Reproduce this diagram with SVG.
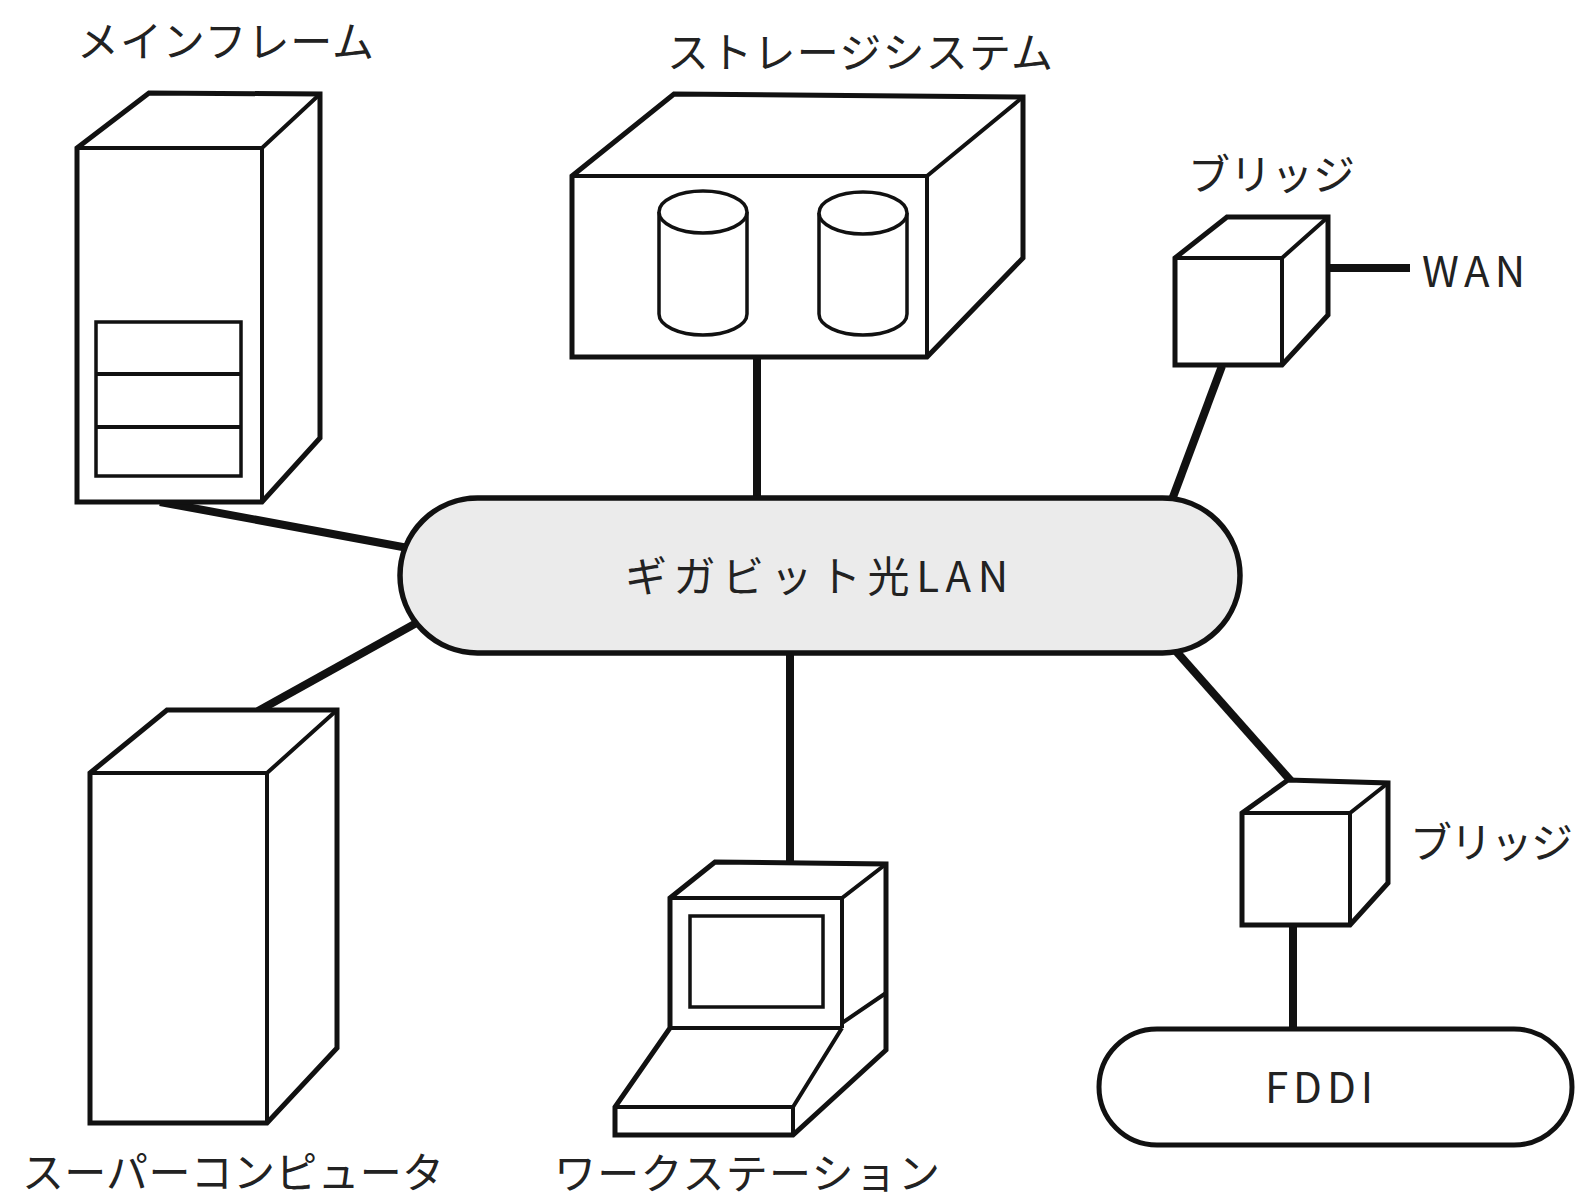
<svg xmlns="http://www.w3.org/2000/svg" width="1584" height="1204" viewBox="0 0 1584 1204">
  <style>
    .outer { fill: #ffffff; stroke: #111111; stroke-width: 5; stroke-linejoin: miter; }
    .edge { fill: none; stroke: #111111; stroke-width: 4; stroke-linejoin: miter; }
    .thin { fill: #ffffff; stroke: #111111; stroke-width: 3.5; }
    .link { fill: none; stroke: #111111; stroke-width: 8; stroke-linecap: butt; }
    .lan { fill: #ebebeb; stroke: #111111; stroke-width: 5.5; }
    .ring { fill: #ffffff; stroke: #111111; stroke-width: 5; }
    .label { font-family: "Noto Sans CJK JP", "Noto Sans", sans-serif; font-size: 42px; fill: #222222; }
  </style>

  <rect x="0" y="0" width="1584" height="1204" fill="#ffffff"/>

  <!-- network links (drawn first so the nodes sit on top) -->
  <g id="connectors">
    <line class="link" x1="160" y1="502" x2="408" y2="548"/>
    <line class="link" x1="757" y1="357" x2="757" y2="505"/>
    <line class="link" x1="1222" y1="366" x2="1170" y2="505"/>
    <line class="link" x1="258" y1="711" x2="420" y2="621"/>
    <line class="link" x1="790" y1="648" x2="790" y2="864"/>
    <line class="link" x1="1175" y1="650" x2="1291" y2="781"/>
    <line class="link" x1="1328" y1="268" x2="1410" y2="268"/>
    <line class="link" x1="1293" y1="925" x2="1293" y2="1032"/>
  </g>

  <!-- mainframe cabinet with drive bays -->
  <g id="mainframe">
    <path class="outer" d="M77 502 L77 148 L149 93 L320 94 L320 438 L262 502 Z"/>
    <path class="edge" d="M77 148 L262 148 L320 94 M262 148 L262 502"/>
    <rect class="thin" x="96" y="322" width="145" height="154"/>
    <line class="edge" x1="96" y1="374" x2="241" y2="374"/>
    <line class="edge" x1="96" y1="427" x2="241" y2="427"/>
    <text class="label" x="77" y="57" textLength="297" lengthAdjust="spacing">メインフレーム</text>
  </g>

  <!-- storage enclosure with two disk drums -->
  <g id="storage">
    <path class="outer" d="M572 357 L572 176 L674 94 L1023 97 L1023 258 L927 357 Z"/>
    <path class="edge" d="M572 176 L927 176 L1023 97 M927 176 L927 357"/>
    <path class="thin" d="M659 212 L659 314 A44 21 0 0 0 747 314 L747 212"/>
    <ellipse class="thin" cx="703" cy="212" rx="44" ry="21"/>
    <path class="thin" d="M819 213 L819 314 A44 21 0 0 0 907 314 L907 213"/>
    <ellipse class="thin" cx="863" cy="213" rx="44" ry="21"/>
    <text class="label" x="667" y="68" textLength="386" lengthAdjust="spacing">ストレージシステム</text>
  </g>

  <!-- bridge towards the WAN -->
  <g id="bridge-wan">
    <path class="outer" d="M1175 365 L1175 258 L1227 217 L1328 217 L1328 315 L1282 365 Z"/>
    <path class="edge" d="M1175 258 L1282 258 L1328 217 M1282 258 L1282 365"/>
    <text class="label" x="1188" y="190" textLength="167" lengthAdjust="spacing">ブリッジ</text>
    <text class="label" x="1422" y="287" font-size="44" textLength="103" lengthAdjust="spacing">WAN</text>
  </g>

  <!-- gigabit optical LAN backbone -->
  <g id="gigabit-lan">
    <rect class="lan" x="400" y="498" width="840" height="155" rx="77.5" ry="77.5"/>
    <text class="label" x="625" y="592" font-size="46" textLength="383" lengthAdjust="spacing">ギガビット光LAN</text>
  </g>

  <!-- supercomputer cabinet -->
  <g id="supercomputer">
    <path class="outer" d="M90 1123 L90 773 L167 710 L337 710 L337 1048 L267 1123 Z"/>
    <path class="edge" d="M90 773 L267 773 L337 710 M267 773 L267 1123"/>
    <text class="label" x="22" y="1188" font-size="41" textLength="422" lengthAdjust="spacing">スーパーコンピュータ</text>
  </g>

  <!-- workstation: monitor on a keyboard base -->
  <g id="workstation">
    <path class="outer" d="M670 1028 L670 898 L715 862 L886 864 L886 1050 L793 1135 L615 1135 L615 1107 Z"/>
    <path class="edge" d="M670 898 L842 898 L886 864 M842 898 L842 1028 M670 1028 L842 1028 M842 1023 L886 993 M842 1028 L793 1107 M615 1107 L793 1107 L793 1135"/>
    <rect class="thin" x="690" y="916" width="133" height="91"/>
    <text class="label" x="554" y="1189" font-size="40" textLength="386" lengthAdjust="spacing">ワークステーション</text>
  </g>

  <!-- bridge towards the FDDI ring -->
  <g id="bridge-fddi">
    <path class="outer" d="M1242 925 L1242 813 L1288 780 L1388 783 L1388 883 L1350 925 Z"/>
    <path class="edge" d="M1242 813 L1350 813 L1388 783 M1350 813 L1350 925"/>
    <text class="label" x="1410" y="858" textLength="163" lengthAdjust="spacing">ブリッジ</text>
  </g>

  <!-- FDDI ring -->
  <g id="fddi">
    <rect class="ring" x="1099" y="1029" width="473" height="116" rx="58" ry="58"/>
    <text class="label" x="1265" y="1103" textLength="108" lengthAdjust="spacing">FDDI</text>
  </g>
</svg>
